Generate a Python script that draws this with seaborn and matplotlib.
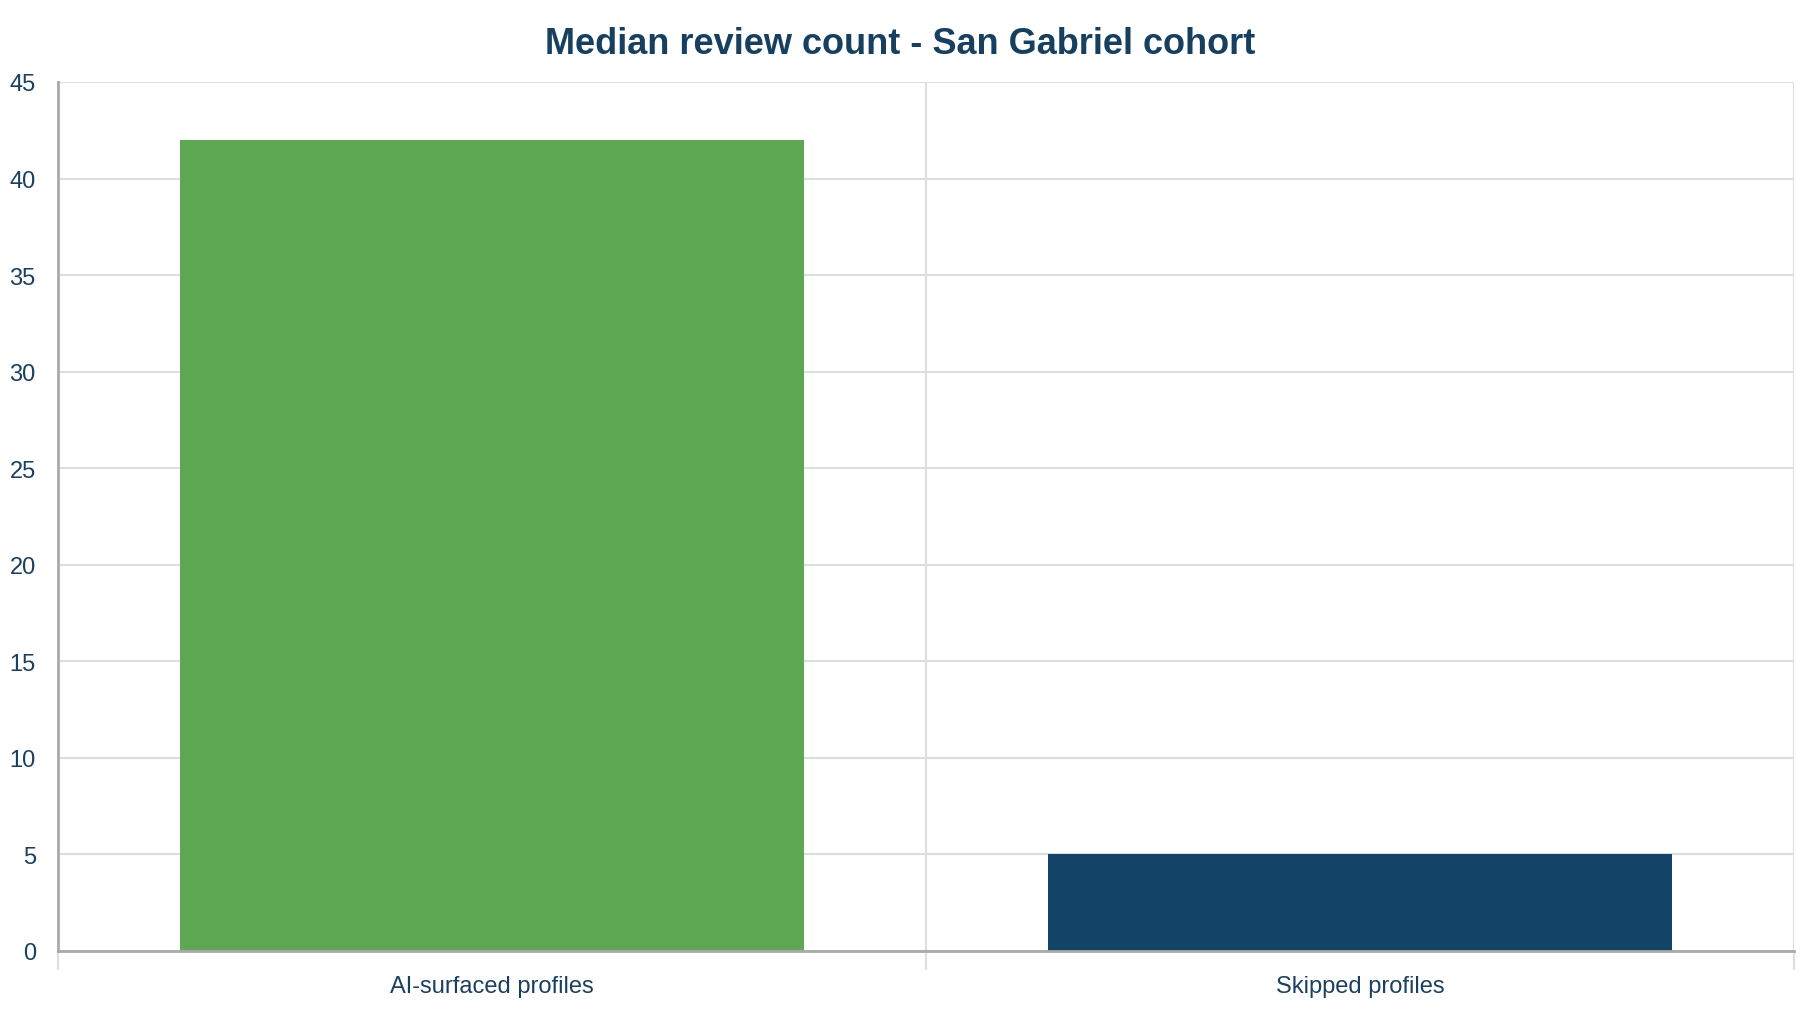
import matplotlib
matplotlib.use("Agg")
import matplotlib.pyplot as plt
import seaborn as sns
import pandas as pd

categories = ["AI-surfaced profiles", "Skipped profiles"]
values = [42, 5]
bar_colors = ["#5EA853", "#134366"]
title = "Median review count - San Gabriel cohort"
y_ticks = [0, 5, 10, 15, 20, 25, 30, 35, 40, 45]

sns.set_theme(style="white")
plt.rcParams["font.family"] = ["Liberation Sans", "DejaVu Sans"]

text_color = "#1B3F5E"
df = pd.DataFrame({"category": categories, "value": values})

fig = plt.figure(figsize=(18, 10.12), dpi=100)
ax = fig.add_axes([58 / 1800, 60 / 1012, 1736 / 1800, 869 / 1012])

sns.barplot(data=df, x="category", y="value", hue="category",
            palette=bar_colors, width=0.72, saturation=1, legend=False, ax=ax,
            edgecolor="none", linewidth=0)

ax.set_xlim(-0.5, len(categories) - 0.5)
ax.set_ylim(0, 45)
ax.set_yticks(y_ticks)
ax.set_yticklabels([str(t) for t in y_ticks])
ax.set_xticks(range(len(categories)))
ax.set_xticklabels(categories)
ax.set_xticks([i - 0.5 for i in range(len(categories) + 1)], minor=True)

ax.set_xlabel("")
ax.set_ylabel("")

ax.grid(axis="y", which="major", color="#DEDEDE", linewidth=1.5)
ax.grid(axis="x", which="minor", color="#DEDEDE", linewidth=1.5)
ax.set_axisbelow(True)

for s in ["top", "right"]:
    ax.spines[s].set_visible(False)
for s in ["left", "bottom"]:
    ax.spines[s].set_color("#AAAAAA")
    ax.spines[s].set_linewidth(2)

ax.tick_params(axis="y", which="major", length=14, width=1.5, color="#CCCCCC",
               labelsize=17, labelcolor=text_color, pad=2)
ax.tick_params(axis="x", which="major", length=0, labelsize=17,
               labelcolor=text_color, pad=17)
ax.tick_params(axis="x", which="minor", length=14, width=1.5, color="#DEDEDE")
ax.tick_params(axis="x", which="minor", bottom=True)

fig.text(0.5, 1 - 44 / 1012, title, ha="center", va="center",
         fontsize=26, fontweight="bold", color="#173F5F")

fig.savefig("out.png", dpi=100, facecolor="white")
